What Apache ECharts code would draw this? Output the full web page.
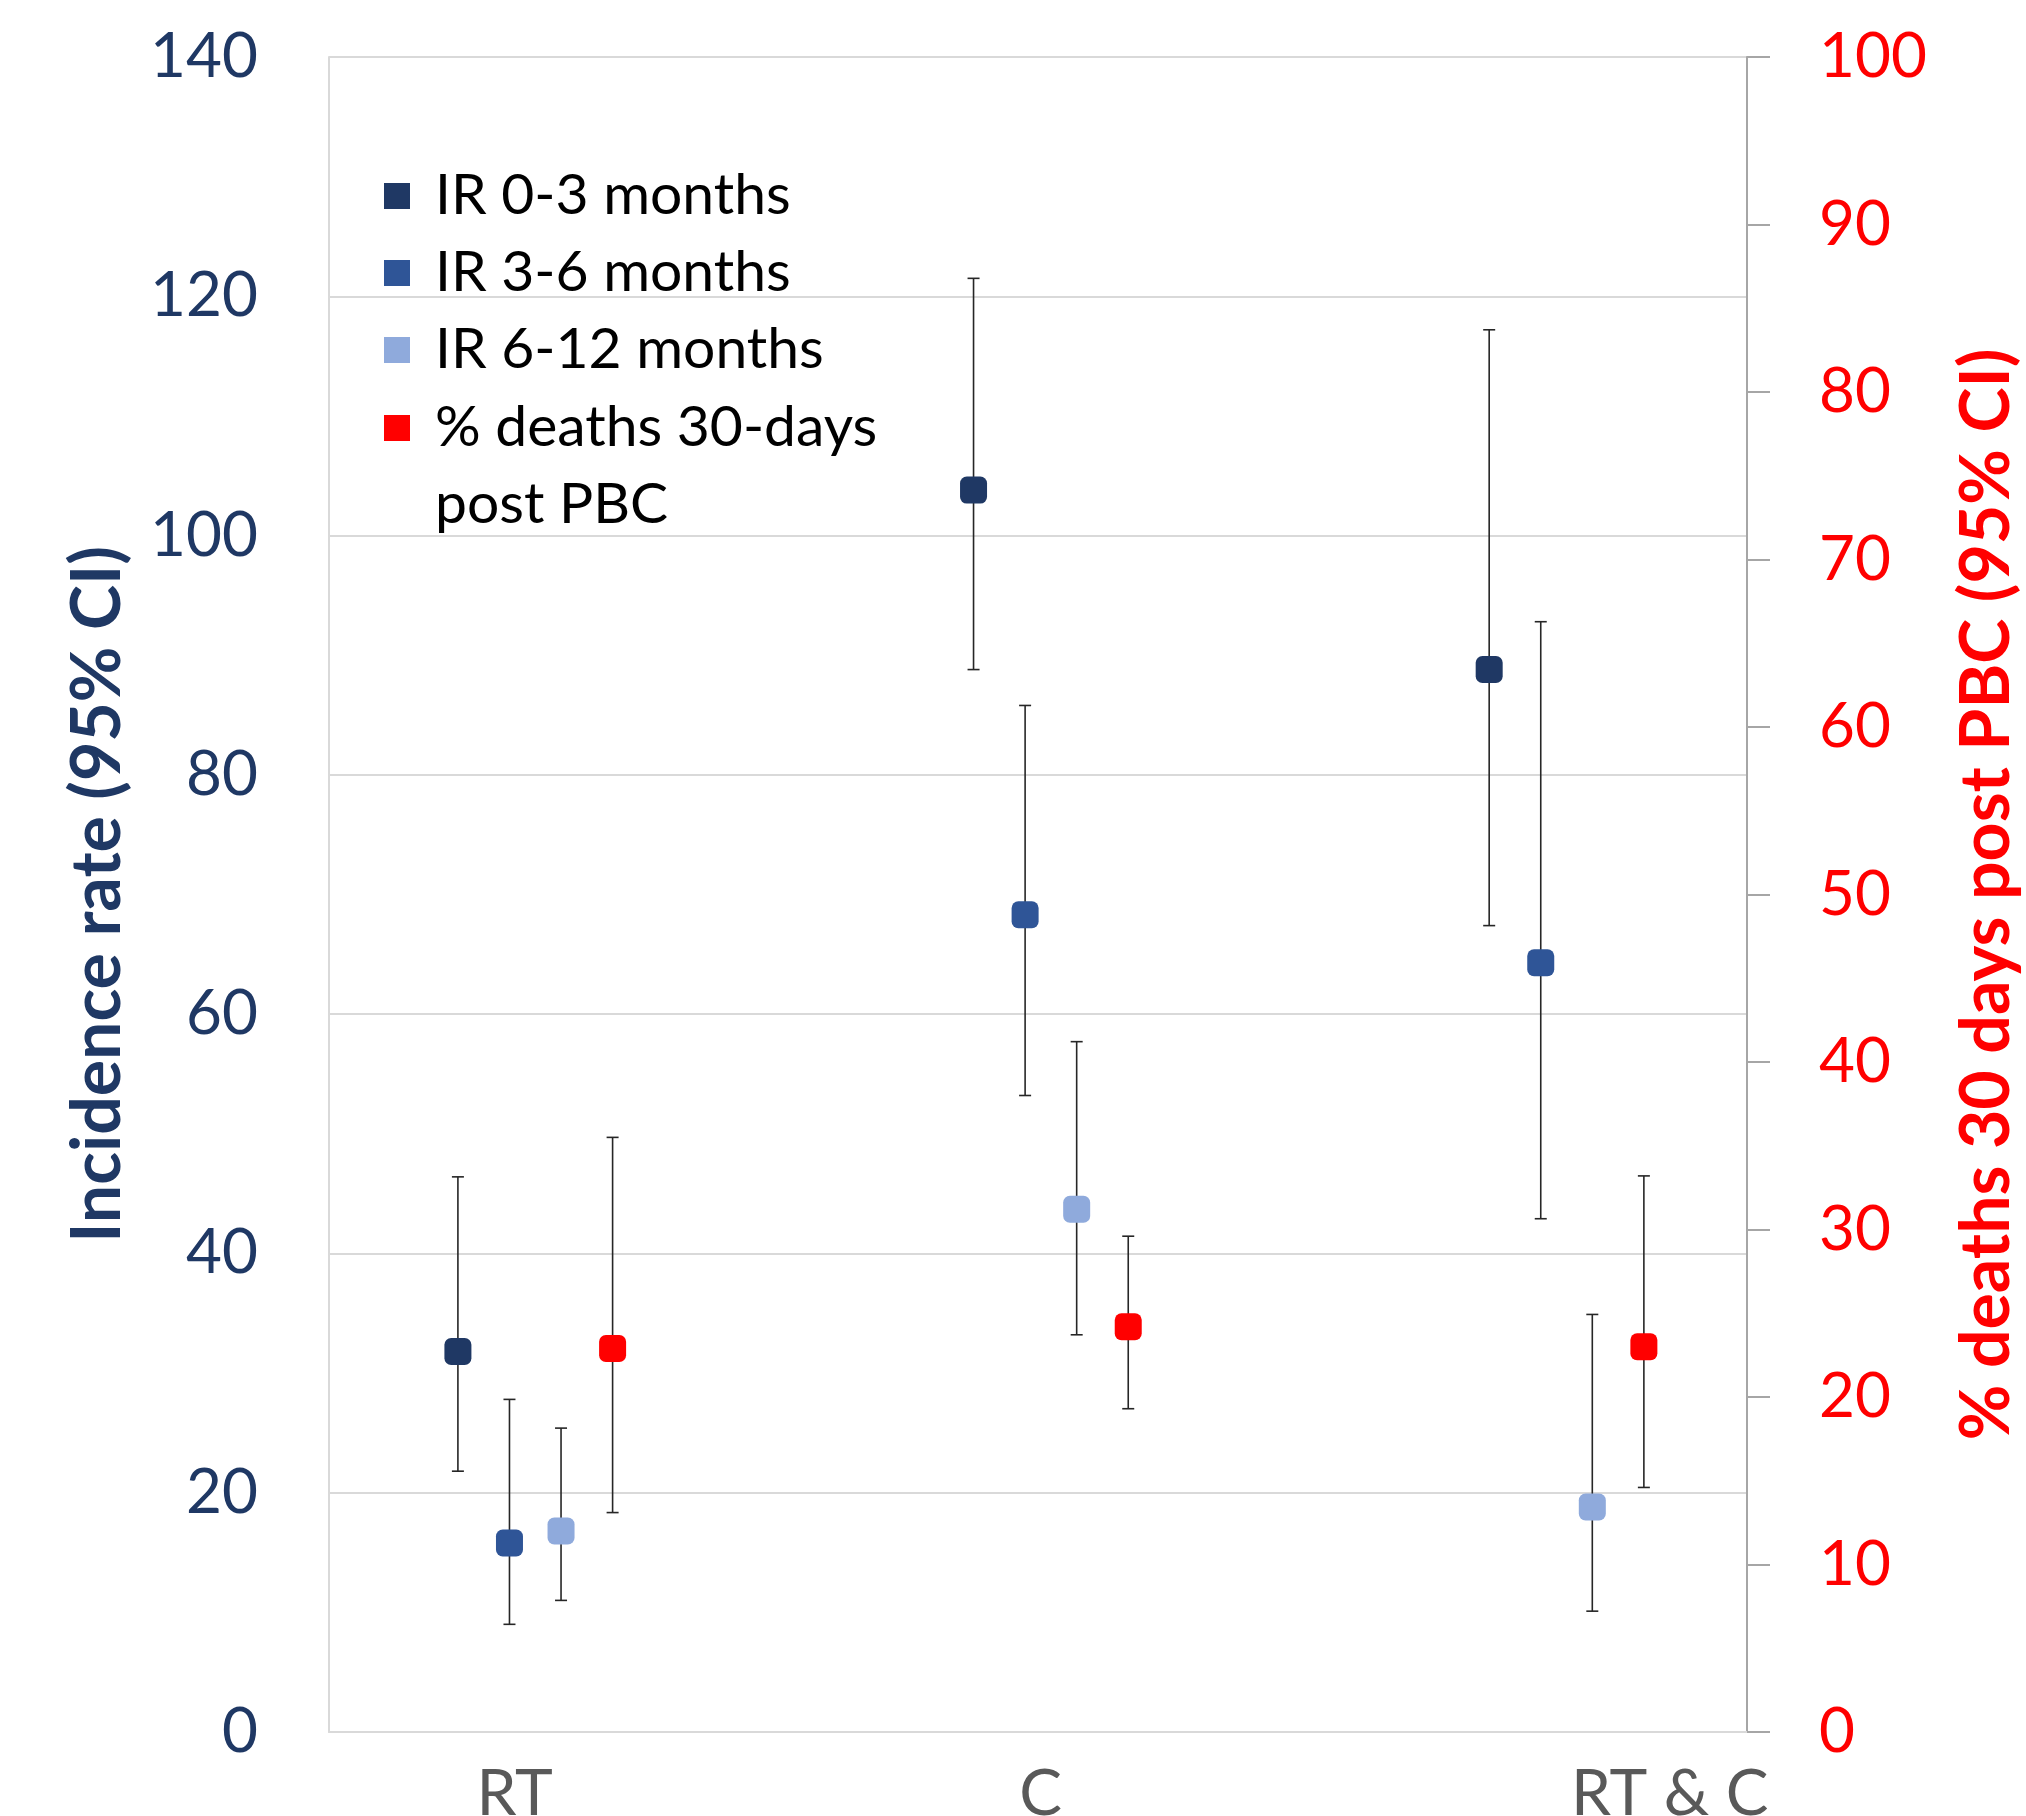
<!DOCTYPE html>
<html>
<head>
<meta charset="utf-8">
<script src="https://cdn.jsdelivr.net/npm/echarts@6/dist/echarts.min.js"></script>
<style>
html, body { margin: 0; padding: 0; background: #fff; }
#chart { width: 2026px; height: 1816px; }
</style>
</head>
<body>
<div id="chart"></div>
<script>
// groups on the x axis
const categories = ['RT', 'C', 'RT & C'];

// incidence rates (left axis), with 95% CI
const ir03 = [31.8, 103.8, 88.8];
const ir03Low = [21.8, 88.8, 67.4];
const ir03High = [46.4, 121.5, 117.2];

const ir36 = [15.8, 68.3, 64.3];
const ir36Low = [9.0, 53.2, 42.9];
const ir36High = [27.8, 85.8, 92.8];

const ir612 = [16.8, 43.7, 18.8];
const ir612Low = [11.0, 33.2, 10.1];
const ir612High = [25.4, 57.7, 34.9];

// % deaths 30 days post PBC (right axis), with 95% CI
const deaths = [22.9, 24.2, 23.0];
const deathsLow = [13.1, 19.3, 14.6];
const deathsHigh = [35.5, 29.6, 33.2];

const names = ['IR 0-3 months', 'IR 3-6 months', 'IR 6-12 months', '% deaths 30-days post PBC'];
const colors = ['#1F3864', '#2F5597', '#8FAADC', '#FF0000'];

// x slots: each group starts at groupStart, series are one slot apart
const groupStart = [2.5, 12.5, 22.5];
const labelX = [3.6, 13.8, 26];

const font = 'Lato';

function points(vals, k) {
    return vals.map((v, g) => [groupStart[g] + k, v]);
}
function bars(lo, hi, k) {
    return lo.map((l, g) => [groupStart[g] + k, l, hi[g]]);
}

function errorBar(params, api) {
    const x = api.value(0);
    const top = api.coord([x, api.value(2)]);
    const bot = api.coord([x, api.value(1)]);
    const half = 6;
    const style = {stroke: '#262626', lineWidth: 1.6};
    return {
        type: 'group',
        children: [
            {type: 'line', shape: {x1: top[0], y1: top[1], x2: bot[0], y2: bot[1]}, style: style},
            {type: 'line', shape: {x1: top[0] - half, y1: top[1], x2: top[0] + half, y2: top[1]}, style: style},
            {type: 'line', shape: {x1: bot[0] - half, y1: bot[1], x2: bot[0] + half, y2: bot[1]}, style: style}
        ]
    };
}

const irSets = [[ir03, ir03Low, ir03High], [ir36, ir36Low, ir36High], [ir612, ir612Low, ir612High], [deaths, deathsLow, deathsHigh]];

const series = [];
irSets.forEach((set, k) => {
    series.push({
        name: 'err' + k,
        type: 'custom',
        yAxisIndex: k === 3 ? 1 : 0,
        renderItem: errorBar,
        data: bars(set[1], set[2], k),
        z: 2,
        silent: true
    });
});
irSets.forEach((set, k) => {
    series.push({
        name: names[k],
        type: 'scatter',
        yAxisIndex: k === 3 ? 1 : 0,
        symbol: 'roundRect',
        symbolSize: 27,
        itemStyle: {color: colors[k], opacity: 1},
        data: points(set[0], k),
        z: 5
    });
});

const legendText = {fontFamily: font, fontSize: 57, color: '#000', lineHeight: 77};

const chart = echarts.init(document.getElementById('chart'));
chart.setOption({
    animation: false,
    backgroundColor: '#fff',
    grid: {left: 329, right: 279, top: 57, bottom: 84, outerBoundsMode: 'none'},
    legend: [
        {
            data: names.slice(0, 3),
            orient: 'vertical',
            left: 384,
            top: 157.5,
            padding: 0,
            itemGap: 0,
            itemWidth: 26,
            itemHeight: 26,
            icon: 'rect',
            selectedMode: false,
            textStyle: Object.assign({padding: [0, 0, 0, 20]}, legendText)
        },
        {
            // two-line label, icon kept on the first line
            data: [names[3]],
            orient: 'vertical',
            left: 384,
            top: 428 - 115.5,
            padding: 0,
            itemWidth: 26,
            itemHeight: 26,
            icon: 'rect',
            selectedMode: false,
            formatter: () => '{a|% deaths 30-days}\n{a|post PBC}',
            textStyle: Object.assign({padding: [77, 0, 0, 20], rich: {a: legendText}}, legendText)
        }
    ],
    xAxis: {
        type: 'value',
        min: 0,
        max: 27.5,
        axisLine: {show: true, onZero: false, lineStyle: {color: '#D9D9D9', width: 2}},
        axisTick: {show: false},
        splitLine: {show: false},
        axisLabel: {
            customValues: labelX,
            formatter: v => {
                const i = labelX.findIndex(x => Math.abs(x - v) < 1e-6);
                return i >= 0 ? categories[i] : '';
            },
            fontFamily: font,
            fontSize: 64,
            color: '#595959',
            margin: 30
        }
    },
    yAxis: [
        {
            type: 'value',
            position: 'left',
            min: 0,
            max: 140,
            interval: 20,
            name: 'Incidence rate (95% CI)',
            nameLocation: 'middle',
            nameRotate: 90,
            nameGap: 197,
            nameTextStyle: {fontFamily: font, fontWeight: 'bold', fontSize: 68, color: '#1F3864'},
            axisLine: {show: true, lineStyle: {color: '#D9D9D9', width: 2}},
            axisTick: {show: false},
            axisLabel: {fontFamily: font, fontSize: 62, color: '#1F3864', margin: 71},
            splitLine: {show: true, lineStyle: {color: '#D9D9D9', width: 2}}
        },
        {
            type: 'value',
            position: 'right',
            min: 0,
            max: 100,
            interval: 10,
            name: '% deaths 30 days post PBC (95% CI)',
            nameLocation: 'middle',
            nameRotate: 90,
            nameGap: 206,
            nameTextStyle: {fontFamily: font, fontWeight: 'bold', fontSize: 68, color: '#FF0000'},
            axisLine: {show: true, lineStyle: {color: '#A6A6A6', width: 2}},
            axisTick: {show: true, inside: false, length: 23, lineStyle: {color: '#A6A6A6', width: 2}},
            axisLabel: {fontFamily: font, fontSize: 62, color: '#FF0000', margin: 72},
            splitLine: {show: false}
        }
    ],
    series: series
});
</script>
</body>
</html>
